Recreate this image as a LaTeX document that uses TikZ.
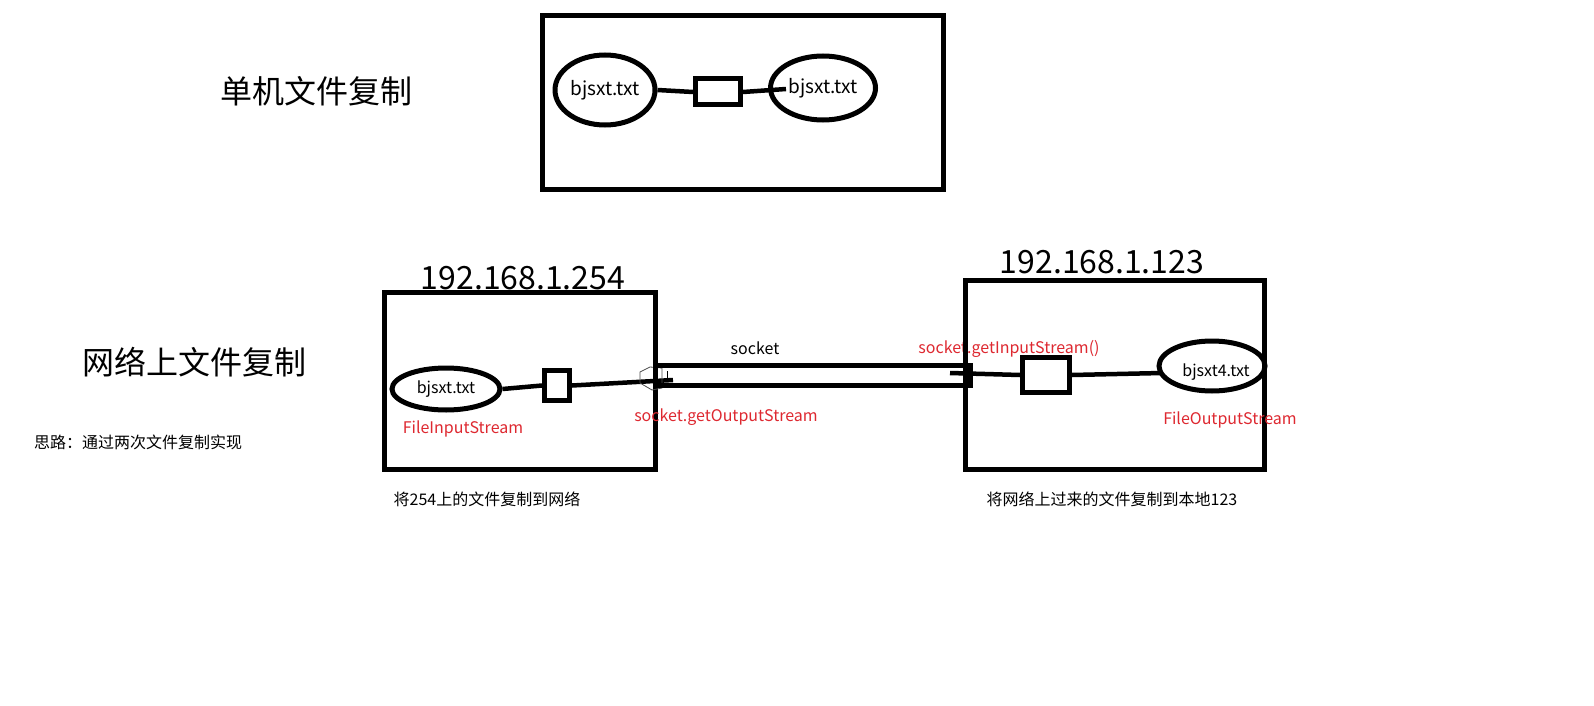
\documentclass[tikz,border=0pt]{standalone}
\usepackage{fontspec}
\setmainfont{Noto Sans CJK SC}
\usetikzlibrary{shapes.geometric}
\definecolor{redtxt}{RGB}{222,40,48}
\tikzset{
  thick5/.style={line width=5pt},
  bigbox/.style={draw,thick5,rectangle,inner sep=0pt},
  smallbox/.style={draw,thick5,rectangle,inner sep=0pt},
  oval/.style={draw,thick5,ellipse,inner sep=0pt},
  conn/.style={line width=4.5pt},
  redlbl/.style={text=redtxt,font=\fontsize{16}{19}\selectfont,inner sep=0pt},
  blklbl/.style={font=\fontsize{16}{19}\selectfont,inner sep=0pt},
  title/.style={font=\fontsize{32}{38}\selectfont,inner sep=0pt},
}
\begin{document}
\begin{tikzpicture}[x=1pt,y=-1pt]
\useasboundingbox[fill=white] (0,0) rectangle (1594,706);
% top section
\node[title] (t1) at (316,91) {单机文件复制};
\node[bigbox,minimum width=401pt,minimum height=174pt] (box1) at (743,102.5) {};
\node[oval,minimum width=100pt,minimum height=70pt,font=\fontsize{19}{22}\selectfont] (e1) at (605,90) {bjsxt.txt};
\node[smallbox,minimum width=45pt,minimum height=26pt] (sb1) at (718,92) {};
\node[oval,minimum width=105pt,minimum height=64pt,font=\fontsize{19}{22}\selectfont] (e2) at (823,88) {bjsxt.txt};
\coordinate (c1) at (786,89);
\draw[conn] (e1.east) -- (sb1.west);
\draw[conn] (sb1.east) -- (c1);
% bottom section
\node[title] (t2) at (194,362) {网络上文件复制};
\node[blklbl] (t3) at (138,442) {思路：通过两次文件复制实现};
\node[bigbox,minimum width=271pt,minimum height=177pt] (boxA) at (519.5,380.5) {};
\node[title,anchor=base] (ipA) at (523,289) {192.168.1.254};
\node[oval,minimum width=108pt,minimum height=42pt,font=\fontsize{16}{19}\selectfont] (eA) at (446,389) {bjsxt.txt};
\node[smallbox,minimum width=25pt,minimum height=30pt] (sbA) at (557,385.5) {};
\node[redlbl] (fis) at (463,429) {FileInputStream};
\draw[conn] (eA.east) -- (sbA.west);
\coordinate (cA) at (673,380);
\draw[conn] (sbA.east) -- (cA);
\draw[line width=0.8pt,black!70] (640,372) -- (650,367) -- (662,368) -- (662,388) -- (652,390) -- (640,383) -- cycle;
\draw[line width=1pt] (667,371) -- (667,382);
% pipe
\node[draw,thick5,rectangle,inner sep=0pt,minimum width=315pt,minimum height=20pt] (pipe) at (812.5,375) {};
\node[blklbl] (sock) at (755,348) {socket};
\node[redlbl] (sos) at (726,417) {socket.getOutputStream};
\node[redlbl] (sis) at (1009,349) {socket.getInputStream()};
% right box
\node[bigbox,minimum width=299pt,minimum height=189pt] (boxB) at (1114.5,374.5) {};
\node[title,anchor=base] (ipB) at (1102,273) {192.168.1.123};
\node[smallbox,minimum width=47pt,minimum height=35pt] (sbB) at (1046,375) {};
\node[oval,minimum width=106pt,minimum height=50pt] (eB) at (1212,366) {};
\node[font=\fontsize{16}{19}\selectfont,inner sep=0pt] (eBt) at (1216,372) {bjsxt4.txt};
\node[redlbl] (fos) at (1230,420) {FileOutputStream};
\coordinate (cB) at (950,373);
\coordinate (cB2) at (1162,373);
\draw[conn] (cB) -- (sbB.west);
\draw[conn] (sbB.east) -- (cB2);
% captions
\node[blklbl] (capA) at (487,499) {将254上的文件复制到网络};
\node[blklbl] (capB) at (1112,499) {将网络上过来的文件复制到本地123};
\end{tikzpicture}
\end{document}
